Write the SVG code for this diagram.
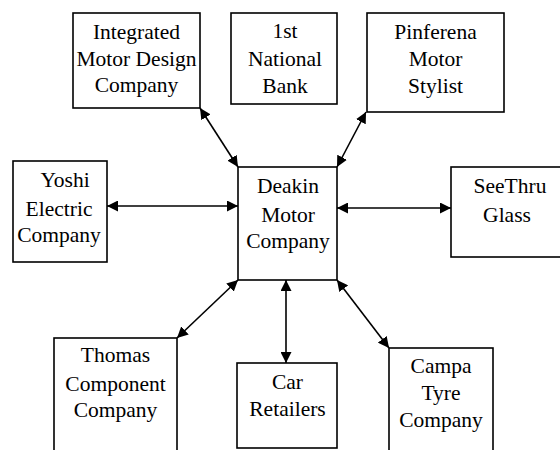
<svg xmlns="http://www.w3.org/2000/svg" width="560" height="450" viewBox="0 0 560 450">
<style>
.box{fill:#fff;stroke:#000;stroke-width:1.6}
.t{font-family:"Liberation Serif","Times New Roman",serif;font-size:21.5px;fill:#000;text-anchor:middle}
.c{stroke:#000;stroke-width:1.6;fill:none;marker-start:url(#ah);marker-end:url(#ah)}
</style>
<defs>
<marker id="ah" viewBox="0 0 10 10" refX="10" refY="5" markerWidth="11" markerHeight="11" markerUnits="userSpaceOnUse" orient="auto-start-reverse">
<path d="M0,0 L10,5 L0,10 z" fill="#000"/>
</marker>
</defs>
<rect width="560" height="450" fill="#fff"/>
<g id="connectors">
<line class="c" x1="200" y1="108" x2="238" y2="167"/>
<line class="c" x1="366" y1="112" x2="337" y2="167"/>
<line class="c" x1="107" y1="206" x2="238" y2="206"/>
<line class="c" x1="337" y1="208" x2="451" y2="208"/>
<line class="c" x1="177" y1="338" x2="238" y2="280"/>
<line class="c" x1="286" y1="280" x2="286" y2="363"/>
<line class="c" x1="337" y1="280" x2="389" y2="348"/>
</g>
<g id="integrated">
<rect class="box" x="73" y="13" width="127" height="95"/>
<text class="t" x="136.5" y="38.5">Integrated</text>
<text class="t" x="136.5" y="66">Motor Design</text>
<text class="t" x="136.5" y="92">Company</text>
</g>
<g id="bank">
<rect class="box" x="231" y="13" width="106" height="91"/>
<text class="t" x="285" y="37.5">1st</text>
<text class="t" x="285" y="65.5">National</text>
<text class="t" x="285" y="92.5">Bank</text>
</g>
<g id="pinferena">
<rect class="box" x="367" y="13" width="137" height="99"/>
<text class="t" x="435.5" y="38.5">Pinferena</text>
<text class="t" x="435.5" y="65.5">Motor</text>
<text class="t" x="435.5" y="93">Stylist</text>
</g>
<g id="yoshi">
<rect class="box" x="13" y="161" width="94" height="101"/>
<text class="t" x="65" y="187">Yoshi</text>
<text class="t" x="59" y="215.5">Electric</text>
<text class="t" x="59" y="241.5">Company</text>
</g>
<g id="deakin">
<rect class="box" x="238" y="167" width="99" height="113"/>
<text class="t" x="288" y="192.5">Deakin</text>
<text class="t" x="288" y="221.5">Motor</text>
<text class="t" x="288" y="248">Company</text>
</g>
<g id="seethru">
<rect class="box" x="451" y="167" width="115" height="90"/>
<text class="t" x="510" y="193">SeeThru</text>
<text class="t" x="507" y="221.5">Glass</text>
</g>
<g id="thomas">
<rect class="box" x="54" y="338" width="123" height="120"/>
<text class="t" x="115.5" y="361.5">Thomas</text>
<text class="t" x="115.5" y="391">Component</text>
<text class="t" x="115.5" y="416.5">Company</text>
</g>
<g id="car">
<rect class="box" x="237" y="363" width="100" height="85"/>
<text class="t" x="287.5" y="388.5">Car</text>
<text class="t" x="287.5" y="416">Retailers</text>
</g>
<g id="campa">
<rect class="box" x="389" y="348" width="104" height="110"/>
<text class="t" x="441" y="373">Campa</text>
<text class="t" x="441" y="400">Tyre</text>
<text class="t" x="441" y="426.5">Company</text>
</g>
</svg>
